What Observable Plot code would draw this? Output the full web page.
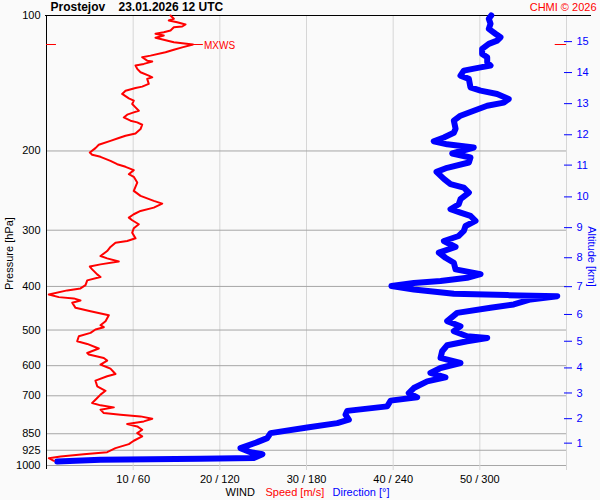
<!DOCTYPE html>
<html><head><meta charset="utf-8">
<script src="https://cdn.jsdelivr.net/npm/d3@7"></script>
<script src="https://cdn.jsdelivr.net/npm/@observablehq/plot@0.6"></script>
<style>body{margin:0;background:#fafafa}</style>
</head><body><div id="chart"></div>
<script>
const stationTitle = "Prostejov\u00a0\u00a0\u00a0 23.01.2026 12 UTC";
const credit = "CHMI © 2026";
const pressureTicks = [100, 200, 300, 400, 500, 600, 700, 850, 925, 1000];
const gridPressures = [200, 300, 400, 500, 600, 700, 850, 925, 1000];
const speedGrid = [10, 20, 30, 40, 50, 60];
const speedDomain = [0, 60];
const dirPerSpeed = 6; // 0-360° shares the width of 0-60 m/s
const altitudeKm = [1, 2, 3, 4, 5, 6, 7, 8, 9, 10, 11, 12, 13, 14, 15];
const altitudePressure = [891.9, 787, 690, 607, 529.5, 461.7, 400.5, 345.4, 296.1, 253.0, 215.0, 184.1, 157.0, 133.9, 114.3];

const speedPressure = [100, 101.7, 102.6, 103.5, 104.7, 105.8, 106.2, 108.0, 108.9, 109.8, 110.8, 112.1, 114.7, 116.0, 117.7, 119.2, 120.7, 122.8, 123.8, 126.0, 126.6, 128.1, 129.2, 131.4, 133.7, 136.0, 137.2, 138.3, 141.9, 143.9, 144.9, 146.9, 149.4, 152.8, 154.6, 157.3, 160.0, 162.8, 164.2, 166.1, 168.5, 171.3, 172.8, 174.9, 178.8, 182.9, 185.0, 187.2, 189.9, 193.8, 197.1, 201.6, 204.0, 206.1, 210.4, 214.0, 216.9, 220.6, 225.2, 228.3, 235.1, 245.3, 251.7, 258.2, 261.8, 267.3, 271.8, 276.5, 281.3, 285.1, 291.0, 297.0, 303.8, 312.7, 317.0, 319.8, 326.9, 333.7, 342.4, 346.5, 352.2, 357.3, 361.3, 366.6, 376.1, 381.3, 387.8, 397.3, 404.1, 408.2, 416.7, 422.5, 425.3, 429.7, 435.0, 446.3, 454.0, 463.4, 477.8, 487.7, 492.8, 498.6, 507.4, 516.1, 529.5, 536.8, 549.6, 562.2, 566.8, 576.8, 584.5, 596.7, 605.0, 609.0, 626.1, 633.5, 647.7, 666.9, 682.4, 695.9, 708.1, 726.5, 735.1, 742.7, 751.5, 764.7, 771.0, 777.8, 787.0, 798.0, 809.1, 818.7, 832.7, 847.3, 861.8, 881.0, 896.5, 915.1, 934.1, 943.7, 954.9, 963.2, 976.2];
const speedValues = [14.31, 14.69, 14.11, 15.08, 16.04, 15.66, 14.69, 14.31, 13.53, 12.58, 13.53, 12.58, 14.69, 16.9, 15.66, 14.69, 13.73, 12.0, 11.04, 11.62, 12.2, 11.23, 10.27, 10.47, 10.85, 11.8, 12.2, 11.62, 11.8, 11.04, 10.27, 9.12, 8.73, 9.5, 10.07, 9.89, 10.27, 10.65, 10.07, 9.31, 8.92, 9.69, 10.47, 11.04, 10.85, 10.27, 9.12, 8.34, 7.38, 6.03, 5.65, 5.0, 5.27, 6.23, 7.38, 8.16, 9.12, 10.07, 9.5, 10.07, 10.47, 10.07, 10.85, 12.38, 13.35, 12.38, 10.85, 10.07, 9.5, 9.89, 10.65, 10.07, 9.89, 10.27, 9.31, 7.96, 7.38, 7.0, 6.23, 7.0, 8.34, 6.23, 5.0, 5.27, 5.85, 6.23, 4.7, 4.5, 3.92, 2.39, 0.27, 1.42, 3.15, 3.92, 2.97, 3.35, 5.08, 7.19, 6.81, 6.23, 6.61, 5.65, 5.08, 3.73, 3.54, 4.7, 6.03, 4.7, 4.88, 6.61, 7.0, 6.23, 7.0, 7.38, 7.96, 7.0, 5.65, 5.85, 6.81, 6.23, 5.85, 5.27, 6.23, 7.77, 6.23, 6.61, 8.54, 10.85, 12.2, 11.23, 9.31, 10.47, 11.04, 10.47, 11.04, 10.07, 9.5, 7.96, 7.0, 4.3, 1.62, 0.27, 0.84];

const dirPressure = [100, 101.7, 104.3, 107.1, 109.8, 111.8, 113.7, 115.6, 118.6, 121.7, 123.8, 127.1, 129.2, 130.4, 132.6, 136.0, 138.3, 144.4, 146.9, 149.4, 153.3, 156.2, 158.7, 162.8, 167.0, 171.3, 178.5, 182.2, 186.7, 190.3, 193.3, 196.5, 202.6, 206.8, 212.2, 218.0, 222.6, 230.7, 237.0, 241.2, 247.5, 256.0, 262.6, 269.5, 274.2, 278.9, 286.1, 293.6, 301.2, 309.0, 317.0, 326.9, 336.6, 345.4, 354.4, 366.6, 375.5, 382.7, 389.2, 393.2, 399.3, 406.2, 415.4, 418.2, 420.4, 427.5, 438.6, 446.3, 457.9, 477.8, 490.3, 503.0, 516.1, 520.6, 529.5, 540.4, 557.3, 576.8, 591.8, 607.1, 622.9, 636.8, 650.0, 672.7, 690.2, 705.6, 717.6, 738.9, 756.2, 771.0, 791.1, 805.0, 822.9, 847.3, 869.3, 887.4, 915.1, 934.1, 943.7, 962.3, 966.2, 971.2, 979.7];
const dirValues = [307.9, 306.2, 307.4, 306.2, 310.8, 314.3, 312.0, 306.2, 301.6, 301.6, 305.1, 305.1, 307.4, 300.5, 288.9, 286.6, 292.4, 293.5, 300.5, 312.0, 320.0, 316.6, 305.1, 295.8, 286.6, 282.0, 283.2, 282.0, 275.1, 268.1, 277.4, 295.8, 280.9, 293.5, 292.4, 277.4, 270.0, 275.1, 279.7, 288.9, 292.4, 286.6, 285.4, 279.7, 286.6, 293.5, 297.0, 290.1, 288.9, 285.4, 275.1, 283.2, 271.6, 276.2, 282.0, 283.2, 300.5, 291.2, 272.8, 254.3, 238.8, 254.3, 282.0, 318.9, 353.6, 335.1, 323.5, 307.4, 284.3, 277.4, 286.6, 282.0, 291.2, 305.1, 291.2, 277.4, 273.9, 272.8, 286.6, 272.8, 265.8, 276.2, 263.6, 254.3, 250.8, 256.6, 238.2, 235.9, 208.2, 207.0, 209.3, 201.3, 180.5, 155.1, 152.8, 145.9, 134.3, 141.2, 149.5, 143.5, 106.6, 37.4, 7.4];

const red = "#ff0000", blue = "#0000ff";
const speedData = speedPressure.map((p, i) => ({p, s: speedValues[i]}));
const dirData = dirPressure.map((p, i) => ({p, d: dirValues[i]}));
const mx = speedData.reduce((a, b) => (b.s > a.s ? b : a));

const chart = Plot.plot({
  width: 600,
  height: 500,
  marginLeft: 46,
  marginRight: 34,
  marginTop: 15,
  marginBottom: 35,
  style: {background: "#fafafa", fontFamily: "'Liberation Sans', Arial, sans-serif", fontSize: "11px", color: "black"},
  x: {domain: speedDomain, label: null},
  y: {type: "log", domain: [100, 1000], reverse: true, label: null},
  marks: [
    Plot.gridX(speedGrid, {stroke: "#d6d6d6", strokeOpacity: 1}),
    Plot.gridY(gridPressures, {stroke: "#a6a6a6", strokeOpacity: 1}),
    Plot.axisX(speedGrid, {tickSize: 5, tickPadding: 5, stroke: "#d6d6d6", fill: "black", label: null,
      tickFormat: d => (d < speedDomain[1] ? `${d} / ${d * dirPerSpeed}` : "")}),
    Plot.axisY(pressureTicks, {anchor: "left", tickSize: 0, tickPadding: 6, fill: "black", label: null, tickFormat: d => String(d)}),
    Plot.axisY(altitudePressure, {anchor: "right", tickSize: 8, tickPadding: 5, dx: -3, stroke: blue, fill: blue, label: null,
      tickFormat: d => String(altitudeKm[altitudePressure.indexOf(d)])}),
    Plot.ruleX([speedDomain[0]], {stroke: "black", insetBottom: -4}),
    Plot.ruleY([100], {stroke: "black", insetLeft: -1, insetRight: -25}),
    Plot.line(dirData, {x: d => d.d / dirPerSpeed, y: "p", stroke: blue, strokeWidth: 6, strokeLinejoin: "round", strokeLinecap: "round"}),
    Plot.line(speedData, {x: "s", y: "p", stroke: red, strokeWidth: 2}),
    Plot.ruleY([mx], {y: "p", x1: speedDomain[0], x2: speedDomain[0] + 1.15, stroke: red}),
    Plot.ruleY([mx], {y: "p", x1: speedDomain[1] - 1.3, x2: speedDomain[1], stroke: red}),
    Plot.ruleY([mx], {y: "p", x1: "s", x2: d => d.s + 1.2, stroke: red}),
    Plot.text([mx], {x: "s", y: "p", text: () => "MXWS", textAnchor: "start", dx: 11, dy: 1, fill: red, fontSize: 10}),
    Plot.text([stationTitle], {text: d => d, frameAnchor: "top-left", textAnchor: "start", lineAnchor: "middle", dx: 4, dy: -8, fontWeight: "bold", fontSize: 12, fill: "black"}),
    Plot.text([credit], {text: d => d, frameAnchor: "top-right", textAnchor: "end", lineAnchor: "middle", dx: 30, dy: -8, fill: red}),
    Plot.text(["Pressure [hPa]"], {text: d => d, frameAnchor: "left", textAnchor: "middle", lineAnchor: "middle", rotate: -90, dx: -37.5, dy: 13, fill: "black"}),
    Plot.text(["Altitude [km]"], {text: d => d, frameAnchor: "right", textAnchor: "middle", lineAnchor: "middle", rotate: 90, dx: 25, dy: 16, fill: blue}),
    Plot.text(["WIND"], {text: d => d, frameAnchor: "bottom", textAnchor: "start", lineAnchor: "middle", dx: -81, dy: 27, fill: "black"}),
    Plot.text(["Speed [m/s]"], {text: d => d, frameAnchor: "bottom", textAnchor: "start", lineAnchor: "middle", dx: -41, dy: 27, fill: red}),
    Plot.text(["Direction [°]"], {text: d => d, frameAnchor: "bottom", textAnchor: "start", lineAnchor: "middle", dx: 26, dy: 27, fill: blue})
  ]
});
document.getElementById("chart").appendChild(chart);
</script>
</body></html>
